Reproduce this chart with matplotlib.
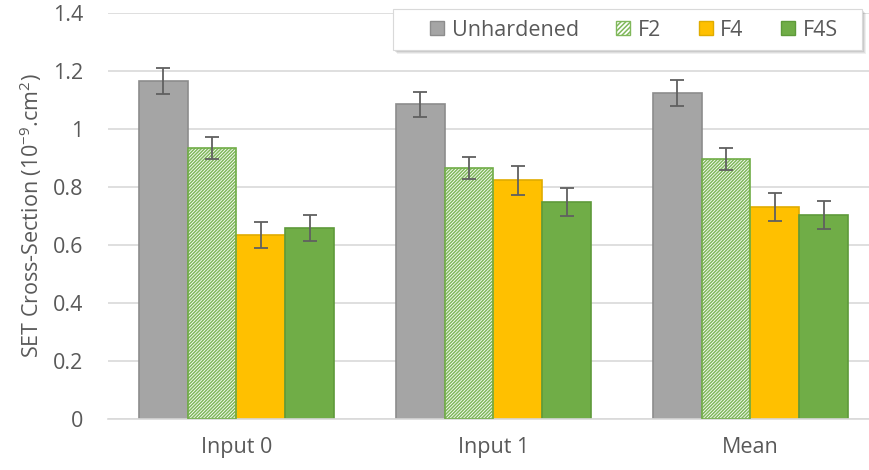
import matplotlib.pyplot as plt
import numpy as np
from matplotlib.patches import Patch, Rectangle

# Data
categories = ["Input 0", "Input 1", "Mean"]
series_names = ["Unhardened", "F2", "F4", "F4S"]
unhardened = [1.166, 1.086, 1.124]
f2 = [0.934, 0.866, 0.897]
f4 = [0.634, 0.824, 0.731]
f4s = [0.659, 0.748, 0.703]
unhardened_err = [0.045, 0.043, 0.045]
f2_err = [0.038, 0.037, 0.038]
f4_err = [0.045, 0.05, 0.048]
f4s_err = [0.045, 0.048, 0.048]
y_ticks = [0, 0.2, 0.4, 0.6, 0.8, 1.0, 1.2, 1.4]
y_tick_labels = ["0", "0.2", "0.4", "0.6", "0.8", "1", "1.2", "1.4"]

plt.rcParams['font.family'] = ['Open Sans', 'DejaVu Sans']
plt.rcParams['mathtext.fontset'] = 'custom'
plt.rcParams['mathtext.rm'] = 'Open Sans'
plt.rcParams['mathtext.it'] = 'Open Sans:italic'
plt.rcParams['hatch.linewidth'] = 1.1

text_col = "#595959"
W, H = 870, 470

fig = plt.figure(figsize=(8.7, 4.7), dpi=100)
ax = fig.add_axes([108 / W, 1 - 419 / H, 771 / W, 406 / H])

x = np.arange(len(categories))
w = 0.19
offsets = [-1.5 * w, -0.5 * w, 0.5 * w, 1.5 * w]

values = [unhardened, f2, f4, f4s]
errors = [unhardened_err, f2_err, f4_err, f4s_err]
faces = ["#A5A5A5", "white", "#FFC000", "#70AD47"]
edges = ["#8C8C8C", "#70AD47", "#E0AC00", "#5E9A3A"]

for i in range(4):
    if series_names[i] == "F2":
        # hatch layer in green, then outline on top
        ax.bar(x + offsets[i], values[i], w, color="white", edgecolor="#80B85B",
               hatch="//////////", linewidth=0, zorder=2)
        ax.bar(x + offsets[i], values[i], w, facecolor="none",
               edgecolor=edges[i], linewidth=1.2, zorder=3)
    else:
        ax.bar(x + offsets[i], values[i], w, color=faces[i],
               edgecolor=edges[i], linewidth=1.2, zorder=2)
    ax.errorbar(x + offsets[i], values[i], yerr=errors[i], fmt="none",
                ecolor="#606060", elinewidth=1.3, capsize=5, capthick=1.3, zorder=4)

ax.set_xlim(-0.5, 2.5)
ax.set_ylim(0, 1.4)
ax.set_yticks(y_ticks)
ax.set_yticklabels(y_tick_labels)
ax.set_xticks(x)
ax.set_xticklabels(categories)
ax.tick_params(axis="y", length=0, labelsize=15.5, colors=text_col, pad=18)
ax.tick_params(axis="x", length=0, labelsize=15.5, colors=text_col, pad=13)
ax.yaxis.grid(True, color="#D9D9D9", linewidth=1.2, zorder=0)
ax.set_axisbelow(True)
for s in ["top", "right", "left"]:
    ax.spines[s].set_visible(False)
ax.spines["bottom"].set_color("#D9D9D9")
ax.spines["bottom"].set_linewidth(1.2)

ax.set_ylabel(r"SET Cross-Section (10$^{-9}$.cm$^{2}$)", fontsize=15.5,
              color=text_col, labelpad=6)

# legend box with soft shadow, drawn by hand in figure pixels
bx0, by0, bx1, by1 = 393, 9, 862, 50
for k, a in [(4, 0.12), (3, 0.15), (2, 0.2)]:
    fig.patches.append(Rectangle(((bx0 + k) / W, 1 - (by1 + k) / H),
                                 (bx1 - bx0) / W, (by1 - by0) / H,
                                 transform=fig.transFigure, facecolor="#808080",
                                 edgecolor="none", alpha=a, zorder=5))
fig.patches.append(Rectangle((bx0 / W, 1 - by1 / H), (bx1 - bx0) / W, (by1 - by0) / H,
                             transform=fig.transFigure, facecolor="white",
                             edgecolor="#D9D9D9", linewidth=0.8, zorder=6))

leg_handles = [
    Patch(facecolor="#A5A5A5", edgecolor="#8C8C8C"),
    Patch(facecolor="white", edgecolor="#80B85B", hatch="///////"),
    Patch(facecolor="#FFC000", edgecolor="#E0AC00"),
    Patch(facecolor="#70AD47", edgecolor="#5E9A3A"),
]
leg = fig.legend(leg_handles, series_names, ncol=4, loc="center left",
                 bbox_to_anchor=(430 / W, 1 - 30 / H), bbox_transform=fig.transFigure,
                 borderaxespad=0, borderpad=0, frameon=False, fontsize=15.5,
                 handlelength=0.65, handleheight=0.65, handletextpad=0.35,
                 columnspacing=1.75, labelcolor=text_col)
leg.set_zorder(7)

fig.savefig("out.png", dpi=100)
